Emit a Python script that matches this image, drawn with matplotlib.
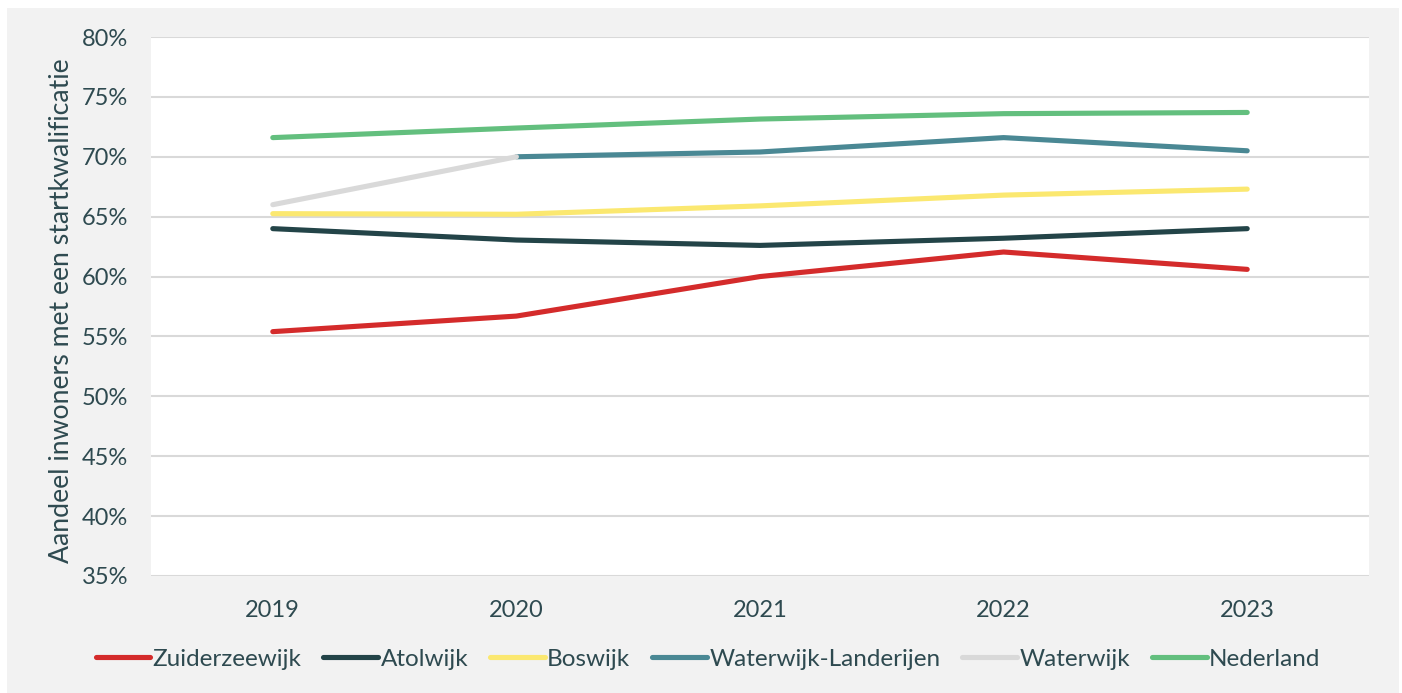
import numpy as np
import matplotlib
matplotlib.use("Agg")
import matplotlib.pyplot as plt
from matplotlib.patches import Rectangle

years = ["2019", "2020", "2021", "2022", "2023"]
zuiderzeewijk = [55.4, 56.7, 60.0, 62.05, 60.6]
atolwijk = [64.0, 63.05, 62.6, 63.2, 64.0]
boswijk = [65.25, 65.2, 65.9, 66.8, 67.3]
waterwijk_landerijen = [np.nan, 70.0, 70.4, 71.6, 70.5]
waterwijk = [66.0, 70.0, np.nan, np.nan, np.nan]
nederland = [71.6, 72.4, 73.15, 73.6, 73.7]

series = [
    ("Zuiderzeewijk", zuiderzeewijk, "#d42b2b"),
    ("Atolwijk", atolwijk, "#234448"),
    ("Boswijk", boswijk, "#fbe870"),
    ("Waterwijk-Landerijen", waterwijk_landerijen, "#4a8894"),
    ("Waterwijk", waterwijk, "#d9d9d9"),
    ("Nederland", nederland, "#63bf7e"),
]
yticks = [35, 40, 45, 50, 55, 60, 65, 70, 75, 80]

txt = "#2e4a50"
plt.rcParams['font.family'] = ['Lato', 'DejaVu Sans']

W, H = 1402, 693
fig = plt.figure(figsize=(W / 100, H / 100), dpi=100, facecolor="white")
bg = Rectangle((7 / W, 0), (1399 - 7) / W, (H - 8) / H,
               transform=fig.transFigure, facecolor="#f2f2f2",
               edgecolor="none", zorder=-5)
fig.add_artist(bg)
ax = fig.add_axes([151 / W, 1 - 576 / H, (1369 - 151) / W, (576 - 37) / H])
ax.set_zorder(1)
ax.set_facecolor("white")

x = np.arange(len(years))
for name, vals, col in series:
    ax.plot(x, vals, color=col, lw=3.7, solid_capstyle="round",
            solid_joinstyle="round", label=name, zorder=3)

ax.set_xlim(-0.5, len(years) - 0.5)
ax.set_ylim(35, 80)
ax.set_yticks(yticks)
ax.set_yticklabels([f"{v}%" for v in yticks])
ax.set_xticks(x)
ax.set_xticklabels(years)
ax.grid(axis="y", color="#d9d9d9", lw=1.5, zorder=1)
ax.set_axisbelow(True)
for s in ax.spines.values():
    s.set_visible(False)
ax.tick_params(axis="both", length=0, labelsize=17, colors=txt)
ax.tick_params(axis="y", pad=16.5)
ax.tick_params(axis="x", pad=17)
ax.set_ylabel("Aandeel inwoners met een startkwalificatie", fontsize=19.2,
              color=txt)
ax.yaxis.set_label_coords((74 - 151) / (1369 - 151), (576 - 311) / (576 - 37))

leg = fig.legend(loc="center", bbox_to_anchor=(708 / W, 1 - 659 / H), ncol=6,
                 frameon=False, fontsize=17.5, handlelength=2.25,
                 handletextpad=0.1, columnspacing=0.9, labelcolor=txt)
for line in leg.get_lines():
    line.set_linewidth(3.7)
    line.set_solid_capstyle("round")

fig.savefig("out.png", dpi=100, facecolor=fig.get_facecolor())
